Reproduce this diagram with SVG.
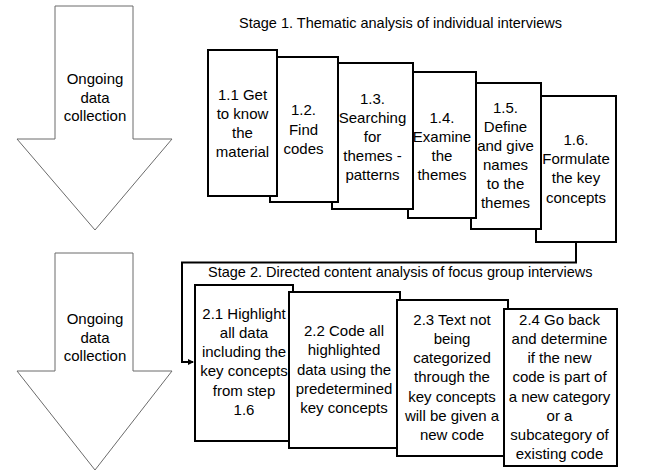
<svg xmlns="http://www.w3.org/2000/svg" width="649" height="475" viewBox="0 0 649 475">
<defs>
<style>
text{font-family:"Liberation Sans",Arial,sans-serif;font-size:15px;fill:#000}
.c{text-anchor:middle}
.t{font-size:14.5px}
.box{fill:#fff;stroke:#000;stroke-width:2}
.big{fill:#fff;stroke:#6b6b6b;stroke-width:1}
.con{fill:none;stroke:#000;stroke-width:2}
</style>
<marker id="ah" markerWidth="6" markerHeight="6" refX="5" refY="3" orient="auto" markerUnits="userSpaceOnUse">
<path d="M0,0 L6,3 L0,6 z" fill="#000"/>
</marker>
</defs>
<rect width="649" height="475" fill="#fff"/>

<g id="arrow1">
<polygon class="big" points="55,6 133,6 133,139 172,139 95,230 17,139 55,139"/>
<text class="c" x="95" y="84">Ongoing</text>
<text class="c" x="95" y="102.5">data</text>
<text class="c" x="95" y="121">collection</text>
</g>
<g id="arrow2">
<polygon class="big" points="55,253 133,253 133,371 172,371 95,470 17,371 55,371"/>
<text class="c" x="95" y="324">Ongoing</text>
<text class="c" x="95" y="342.5">data</text>
<text class="c" x="95" y="361">collection</text>
</g>

<g id="stage1-title"><text class="t" x="239" y="28">Stage 1. Thematic analysis of individual interviews</text></g>

<g id="connectors">
<path class="con" d="M576,242 V262.5 H182 V362 H193" marker-end="url(#ah)"/>
</g>

<g id="n16">
<rect class="box" x="536" y="96" width="80" height="146"/>
<text class="c" x="576" y="144.5">1.6.</text>
<text class="c" x="576" y="164">Formulate</text>
<text class="c" x="576" y="183">the key</text>
<text class="c" x="576" y="202.5">concepts</text>
</g>
<g id="n15">
<rect class="box" x="471" y="83" width="70" height="146"/>
<text class="c" x="505.5" y="112.5">1.5.</text>
<text class="c" x="505.5" y="131.5">Define</text>
<text class="c" x="505.5" y="151">and give</text>
<text class="c" x="505.5" y="170">names</text>
<text class="c" x="505.5" y="189">to the</text>
<text class="c" x="505.5" y="208">themes</text>
</g>
<g id="n14">
<rect class="box" x="408" y="72" width="68" height="146"/>
<text class="c" x="442" y="122.5">1.4.</text>
<text class="c" x="442" y="141.5">Examine</text>
<text class="c" x="442" y="161">the</text>
<text class="c" x="442" y="180">themes</text>
</g>
<g id="n13">
<rect class="box" x="332" y="63" width="81" height="146"/>
<text class="c" x="372.5" y="103.5">1.3.</text>
<text class="c" x="372.5" y="122.5">Searching</text>
<text class="c" x="372.5" y="142">for</text>
<text class="c" x="372.5" y="161">themes -</text>
<text class="c" x="372.5" y="180">patterns</text>
</g>
<g id="n12">
<rect class="box" x="270" y="57" width="68" height="145"/>
<text class="c" x="303.5" y="115">1.2.</text>
<text class="c" x="303.5" y="134.5">Find</text>
<text class="c" x="303.5" y="153.5">codes</text>
</g>
<g id="n11">
<rect class="box" x="208" y="50" width="69" height="146"/>
<text class="c" x="242.5" y="99.5">1.1 Get</text>
<text class="c" x="242.5" y="118.5">to know</text>
<text class="c" x="242.5" y="138">the</text>
<text class="c" x="242.5" y="157">material</text>
</g>

<g id="stage2-title"><text class="t" x="208" y="277">Stage 2. Directed content analysis of focus group interviews</text></g>

<g id="n21">
<rect class="box" x="195" y="285" width="98" height="156"/>
<text class="c" x="244" y="318.5">2.1 Highlight</text>
<text class="c" x="244" y="337.5">all data</text>
<text class="c" x="244" y="357">including the</text>
<text class="c" x="244" y="376">key concepts</text>
<text class="c" x="244" y="395.5">from step</text>
<text class="c" x="244" y="414.5">1.6</text>
</g>
<g id="n22">
<rect class="box" x="289" y="292" width="111" height="156"/>
<text class="c" x="344" y="336">2.2 Code all</text>
<text class="c" x="344" y="355">highlighted</text>
<text class="c" x="344" y="374.5">data using the</text>
<text class="c" x="344" y="393.5">predetermined</text>
<text class="c" x="344" y="413">key concepts</text>
</g>
<g id="n23">
<rect class="box" x="397" y="300" width="111" height="156"/>
<text class="c" x="452" y="324.5">2.3 Text not</text>
<text class="c" x="452" y="343.5">being</text>
<text class="c" x="452" y="363">categorized</text>
<text class="c" x="452" y="382">through the</text>
<text class="c" x="452" y="401.5">key concepts</text>
<text class="c" x="452" y="420.5">will be given a</text>
<text class="c" x="452" y="439.5">new code</text>
</g>
<g id="n24">
<rect class="box" x="504" y="309" width="113" height="157"/>
<text class="c" x="559.5" y="324.5">2.4 Go back</text>
<text class="c" x="559.5" y="343.5">and determine</text>
<text class="c" x="559.5" y="363">if the new</text>
<text class="c" x="559.5" y="382">code is part of</text>
<text class="c" x="559.5" y="401.5">a new category</text>
<text class="c" x="559.5" y="420.5">or a</text>
<text class="c" x="559.5" y="439.5">subcategory of</text>
<text class="c" x="559.5" y="459">existing code</text>
</g>
</svg>
